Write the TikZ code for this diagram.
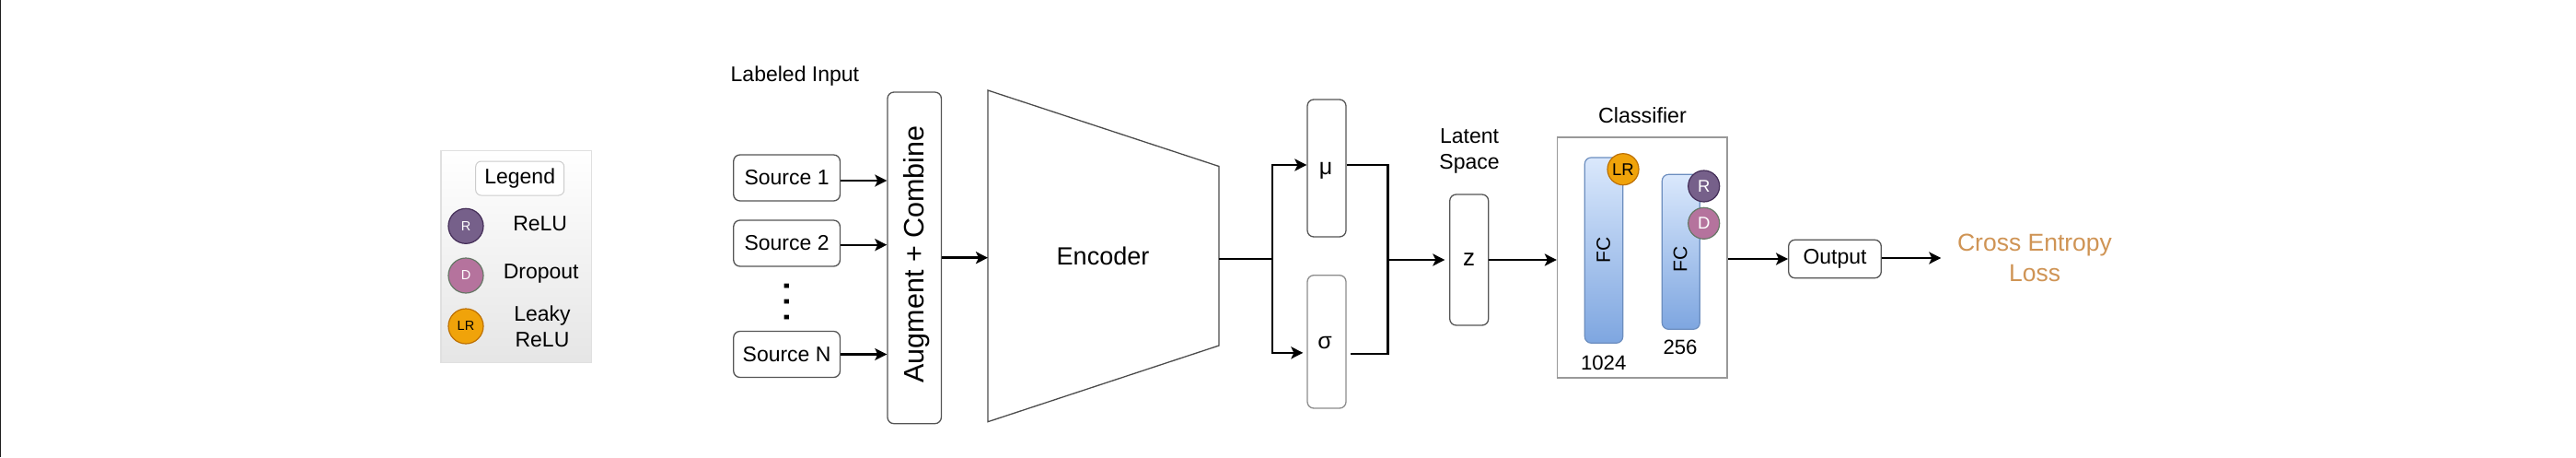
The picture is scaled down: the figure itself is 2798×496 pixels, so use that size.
\documentclass[tikz,border=0pt]{standalone}
\usepackage{fontspec}
\setmainfont{Liberation Sans}
\usetikzlibrary{arrows.meta}

\definecolor{boxline}{HTML}{555555}
\definecolor{paleline}{HTML}{8C8C8C}
\definecolor{fctop}{HTML}{DAE8FC}
\definecolor{fcbottom}{HTML}{7EA6E0}
\definecolor{fcline}{HTML}{6C8EBF}
\definecolor{relufill}{HTML}{76608A}
\definecolor{reluline}{HTML}{432D57}
\definecolor{dropfill}{HTML}{B5739D}
\definecolor{dropline}{HTML}{667766}
\definecolor{leakfill}{HTML}{F0A30A}
\definecolor{leakline}{HTML}{BD7000}
\definecolor{lossorange}{HTML}{CF9455}

\tikzset{
    txt/.style={inner sep=0pt, align=center, font=\fontsize{23}{28}\selectfont},
    block/.style={draw=boxline, line width=1.3pt, rounded corners=7pt, inner sep=0pt, fill=white},
    fcblock/.style={draw=fcline, line width=1.2pt, rounded corners=7pt, top color=fctop, bottom color=fcbottom},
    act/.style={circle, inner sep=0pt, line width=1.2pt, text=white},
    wire/.style={line width=2.5pt},
    arrow/.style={wire, -{Stealth[length=13pt,width=13pt,inset=3pt]}}
}

\begin{document}
\begin{tikzpicture}[x=1pt,y=-1pt]
\useasboundingbox (0,0) rectangle (2798,496);

% Edge of the page
\coordinate (edgetop) at (0.5,0);
\coordinate (edgebot) at (0.5,496);
\draw[black!88, line width=1pt] (edgetop) -- (edgebot);

% Legend
\node[draw=black!12,
    line width=1.5pt,
    top color=white,
    bottom color=black!10,
    minimum width=163.5pt,
    minimum height=230pt] (legend) at (560.5,278.7){};
\node[txt,
    draw=black!20,
    fill=white,
    line width=1pt,
    rounded corners=6pt,
    minimum width=96pt,
    minimum height=37pt] (legendtitle) at (564.7,193.5){Legend};
\node[act, draw=reluline, fill=relufill, minimum size=38pt, font=\fontsize{14.5}{17}\selectfont] (legendR) at (506,245.3){R};
\node[act, draw=dropline, fill=dropfill, minimum size=38pt, font=\fontsize{14.5}{17}\selectfont] (legendD) at (506,299){D};
\node[act, draw=leakline, fill=leakfill, minimum size=38pt, text=black, font=\fontsize{14.5}{17}\selectfont] (legendLR) at (506,354){LR};
\node[txt] (relutext) at (586.7,242.5){ReLU};
\node[txt] (droptext) at (587.7,297){Dropout};
\node[txt] (leaktext) at (589,354){Leaky\\ReLU};

% Sources
\node[txt] (inputtitle) at (863.4,83){Labeled Input};
\node[txt, block, minimum width=115.7pt, minimum height=50pt] (srcone) at (854.6,193){Source 1};
\node[txt, block, minimum width=115.7pt, minimum height=50pt] (srctwo) at (854.6,264){Source 2};
\node[txt, block, minimum width=115.7pt, minimum height=50pt] (srcN) at (854.6,384.5){Source N};
\node[inner sep=0pt, rotate=90, font=\fontsize{50}{50}\selectfont] (srcdots) at (854.6,327.5){.\kern3pt.\kern3pt.};

% Augment + Combine
\node[block, minimum width=58.5pt, minimum height=359.7pt] (augment) at (993.2,279.85){};
\node[txt, rotate=90, font=\fontsize{30.5}{36}\selectfont] (augmenttext) at (995.7,276){Augment + Combine};

% Encoder
\coordinate (enclefttop) at (1073,98);
\coordinate (encrighttop) at (1324,180.5);
\coordinate (encrightbot) at (1324,375);
\coordinate (encleftbot) at (1073,457.7);
\draw[black!70, line width=1.3pt, line join=miter] (enclefttop) -- (encrighttop) -- (encrightbot) -- (encleftbot) -- cycle;
\node[txt, font=\fontsize{27}{32}\selectfont] (encoder) at (1198,278){Encoder};
\coordinate (encin) at (1073,279.7);
\coordinate (encout) at (1324,281);

% Mean and variance
\node[block, minimum width=42pt, minimum height=149pt] (mu) at (1441,182.5){};
\node[txt, font=\fontsize{25}{30}\selectfont] (mutext) at (1440,185){μ};
\node[block, draw=paleline, minimum width=42pt, minimum height=144.3pt] (sigma) at (1441,370.85){};
\node[txt, font=\fontsize{25}{30}\selectfont] (sigmatext) at (1439,372){σ};
\coordinate (split) at (1382,281);
\coordinate (merge) at (1507.7,282);

% Latent space
\node[txt] (latenttitle) at (1596,164){Latent\\Space};
\node[txt, block, minimum width=42pt, minimum height=142pt, font=\fontsize{26}{30}\selectfont] (z) at (1595.7,282){z};

% Classifier
\node[txt, font=\fontsize{23.3}{28}\selectfont] (clftitle) at (1784,125){Classifier};
\node[draw=black!40, line width=1.6pt, minimum width=184.3pt, minimum height=261pt] (clf) at (1783.8,279.5){};
\node[fcblock, minimum width=41.4pt, minimum height=201.3pt] (fcone) at (1742,271.6){};
\node[fcblock, minimum width=41pt, minimum height=168pt] (fctwo) at (1825.8,273.3){};
\node[txt, rotate=90, font=\fontsize{21}{25}\selectfont] (fconetext) at (1741.7,271){FC};
\node[txt, rotate=90, font=\fontsize{21}{25}\selectfont] (fctwotext) at (1825,281){FC};
\node[act, draw=leakline, fill=leakfill, minimum size=34pt, text=black, font=\fontsize{18.5}{22}\selectfont] (fcLR) at (1763,183.7){LR};
\node[act, draw=reluline, fill=relufill, minimum size=34pt, font=\fontsize{18.5}{22}\selectfont] (fcR) at (1850.7,202){R};
\node[act, draw=dropline, fill=dropfill, minimum size=34pt, font=\fontsize{18.5}{22}\selectfont] (fcD) at (1850.7,242.3){D};
\node[txt, font=\fontsize{22.2}{26}\selectfont] (fconesize) at (1741.7,394){1024};
\node[txt, font=\fontsize{22.2}{26}\selectfont] (fctwosize) at (1825,376.7){256};

% Output and loss
\node[txt, block, minimum width=100.6pt, minimum height=41.4pt] (output) at (1993,281){Output};
\node[txt, text=lossorange, font=\fontsize{26.5}{33}\selectfont] (loss) at (2210,279.5){Cross Entropy\\Loss};
\coordinate (lossin) at (2108.3,280);

% Connectors
\draw[arrow, line width=2.2pt] ([yshift=-3pt]srcone.east) -- ([yshift=-3pt]srcone.east -| augment.west);
\draw[arrow, line width=2.2pt] ([yshift=-1.7pt]srctwo.east) -- ([yshift=-1.7pt]srctwo.east -| augment.west);
\draw[arrow, line width=2.2pt] (srcN.east) -- (srcN.east -| augment.west);
\draw[arrow] (augment.east |- encin) -- (encin);
\draw[wire] (encout) -- (split);
\draw[arrow] (split) |- ([yshift=3.5pt]mu.west);
\draw[arrow] (split) |- ([xshift=-4pt,yshift=-12pt]sigma.west);
\draw[wire] ([yshift=3.5pt]mu.east) -| (merge) |- ([xshift=4pt,yshift=-13pt]sigma.east);
\draw[arrow] (merge) -- ([xshift=-4.7pt]z.west);
\draw[arrow] (z.east) -- (z.east -| clf.west);
\draw[arrow] (clf.east |- output.west) -- (output.west);
\draw[arrow] (output.east |- lossin) -- (lossin);

\end{tikzpicture}
\end{document}
